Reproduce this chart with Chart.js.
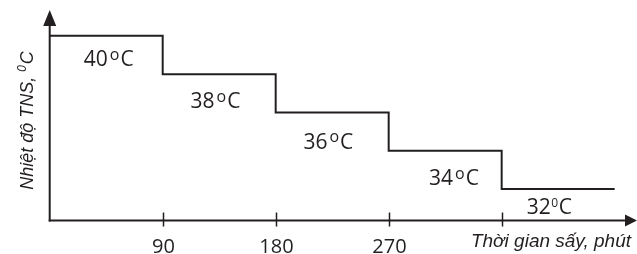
<!DOCTYPE html>
<html>
<head>
<meta charset="utf-8">
<script src="https://cdn.jsdelivr.net/npm/chart.js@4/dist/chart.umd.min.js"></script>
<style>
  html, body { margin: 0; padding: 0; background: #fff; }
  #wrap { width: 637px; height: 254px; }
</style>
</head>
<body>
<div id="wrap"><canvas id="dryChart" width="637" height="254"></canvas></div>
<script>
// drying schedule: air temperature vs drying time
const timeMin = [0, 90, 180, 270, 360, 450];
const tempC = [40, 38, 36, 34, 32, 32];

// step labels (value + superscript degree mark) and where they sit, in data units
const stepValues = ['40', '38', '36', '34', '32'];
const stepSup = ['o', 'o', 'o', 'o', '0'];
const labelX = [47, 132, 222, 322, 398];
const labelY = [38.8, 36.6, 34.5, 32.6, 31.1];

// x axis ticks
const xTicks = [90, 180, 270, 360];
const xTickLabels = ['90', '180', '270', ''];

const xTitle = 'Thời gian sấy, phút';
const yTitle = 'Nhiệt độ TNS, ';

const INK = '#231f20';

// draw "40" + raised "o" + "C" centred on (cx, cy)
function drawDegree(ctx, num, sup, cx, cy, size) {
  const baseFont = size + 'px "Open Sans", sans-serif';
  const supSize = sup === 'o' ? 16 : 12;
  const supFont = supSize + 'px "Open Sans", sans-serif';
  const gapL = sup === 'o' ? 2 : 0.5;
  const gapR = sup === 'o' ? 1 : 0.5;
  ctx.font = baseFont;
  const wNum = ctx.measureText(num).width;
  const wC = ctx.measureText('C').width;
  ctx.font = supFont;
  const wSup = ctx.measureText(sup).width;
  const total = wNum + gapL + wSup + gapR + wC;
  let x = cx - total / 2;
  const base = cy + size * 0.36;
  const capTop = base - size * 0.714;
  ctx.textAlign = 'left';
  ctx.textBaseline = 'alphabetic';
  ctx.font = baseFont;
  ctx.fillText(num, x, base);
  x += wNum + gapL;
  ctx.font = supFont;
  const supH = sup === 'o' ? supSize * 0.545 : supSize * 0.714;
  ctx.fillText(sup, x, capTop + supH);
  x += wSup + gapR;
  ctx.font = baseFont;
  ctx.fillText('C', x, base);
}

const axesPlugin = {
  id: 'axesPlugin',
  afterDraw(chart) {
    const ctx = chart.ctx;
    const xs = chart.scales.x;
    const ys = chart.scales.y;
    const area = chart.chartArea;
    const x0 = xs.getPixelForValue(0);
    const y0 = ys.getPixelForValue(ys.min);

    ctx.save();
    ctx.strokeStyle = INK;
    ctx.fillStyle = INK;
    ctx.lineWidth = 2;

    // y axis with arrow
    ctx.beginPath();
    ctx.moveTo(x0, y0 + 1);
    ctx.lineTo(x0, area.top + 12);
    ctx.stroke();
    ctx.beginPath();
    ctx.moveTo(x0, area.top - 1);
    ctx.lineTo(x0 - 6.5, area.top + 15);
    ctx.lineTo(x0 + 6.5, area.top + 15);
    ctx.closePath();
    ctx.fill();

    // x axis with arrow
    ctx.beginPath();
    ctx.moveTo(x0 - 1, y0);
    ctx.lineTo(area.right - 8, y0);
    ctx.stroke();
    ctx.beginPath();
    ctx.moveTo(area.right + 1, y0);
    ctx.lineTo(area.right - 11, y0 - 6);
    ctx.lineTo(area.right - 11, y0 + 6);
    ctx.closePath();
    ctx.fill();

    // ticks crossing the axis + labels
    ctx.lineWidth = 1.5;
    ctx.font = '20px "Open Sans", sans-serif';
    ctx.textAlign = 'center';
    ctx.textBaseline = 'alphabetic';
    xTicks.forEach((t, i) => {
      const px = Math.round(xs.getPixelForValue(t)) + 0.5;
      ctx.beginPath();
      ctx.moveTo(px, y0 - 8);
      ctx.lineTo(px, y0 + 6);
      ctx.stroke();
      ctx.fillText(xTickLabels[i], px, y0 + 32);
    });

    // step labels
    stepValues.forEach((v, i) => {
      drawDegree(ctx, v, stepSup[i], xs.getPixelForValue(labelX[i]), ys.getPixelForValue(labelY[i]), 21);
    });

    // x title
    ctx.font = 'italic 19px "Liberation Sans", Arial, sans-serif';
    ctx.textAlign = 'right';
    ctx.textBaseline = 'middle';
    ctx.fillText(xTitle, area.right - 5, y0 + 21);

    // y title, rotated
    ctx.translate(27, 121);
    ctx.rotate(-Math.PI / 2);
    ctx.font = 'italic 18px "Liberation Sans", Arial, sans-serif';
    const w1 = ctx.measureText(yTitle).width;
    ctx.font = 'italic 12px "Liberation Sans", Arial, sans-serif';
    const w2 = ctx.measureText('0').width;
    ctx.font = 'italic 18px "Liberation Sans", Arial, sans-serif';
    const w3 = ctx.measureText('C').width;
    let tx = -(w1 + w2 + w3) / 2;
    ctx.textAlign = 'left';
    ctx.textBaseline = 'alphabetic';
    ctx.fillText(yTitle, tx, 6);
    ctx.font = 'italic 12px "Liberation Sans", Arial, sans-serif';
    ctx.fillText('0', tx + w1, -1);
    ctx.font = 'italic 18px "Liberation Sans", Arial, sans-serif';
    ctx.fillText('C', tx + w1 + w2 + 1, 6);

    ctx.restore();
  }
};

new Chart(document.getElementById('dryChart').getContext('2d'), {
  type: 'line',
  data: {
    datasets: [{
      data: timeMin.map((t, i) => ({ x: t, y: tempC[i] })),
      borderColor: INK,
      borderWidth: 2,
      pointRadius: 0,
      stepped: true,
      fill: false,
    }],
  },
  options: {
    responsive: false,
    animation: false,
    devicePixelRatio: 1,
    layout: { padding: { left: 49.7, top: 11, right: 1, bottom: 33.5 } },
    plugins: { legend: { display: false }, tooltip: { enabled: false } },
    scales: {
      x: { type: 'linear', min: 0, max: 467, display: false },
      y: { type: 'linear', min: 30.35, max: 41.3, display: false },
    },
  },
  plugins: [axesPlugin],
});
</script>
</body>
</html>
